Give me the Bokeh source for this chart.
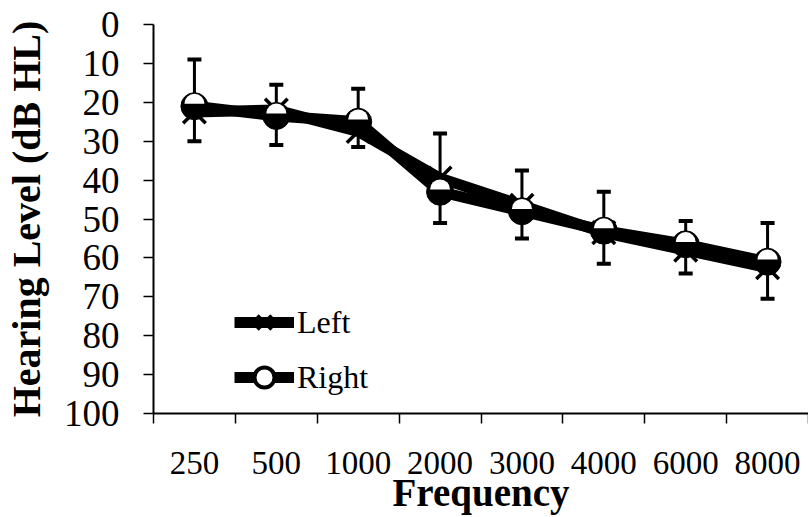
from bokeh.plotting import figure
from bokeh.models import Range1d, FixedTicker, Legend, LegendItem
from bokeh.embed import file_html
from bokeh.resources import INLINE

# ---- data ----
freqs = ["250", "500", "1000", "2000", "3000", "4000", "6000", "8000"]
left_mean = [22.5, 22, 27.5, 39.5, 46.5, 53.5, 58, 62.5]
left_sd = [7.5, 9, 4, 11.5, 8.5, 8, 6, 8]
right_mean = [21, 23.5, 25, 43, 48, 53, 56.5, 61]
right_sd = [12, 8, 8.5, 15, 10.5, 10, 6, 10]
y_ticks = list(range(0, 101, 10))

FONT = "Liberation Serif"

xs = [i + 0.5 for i in range(len(freqs))]
boundaries = list(range(len(freqs) + 1))

p = figure(width=808, height=517, output_backend="svg", toolbar_location=None,
           x_range=Range1d(0, len(freqs)), y_range=Range1d(100, 0),
           min_border_left=152, min_border_right=0, min_border_top=24,
           min_border_bottom=104)
p.outline_line_color = None
p.grid.visible = False
p.background_fill_color = "white"
p.border_fill_color = "white"

# x axis: labels at category centres, ticks at category boundaries
xa = p.xaxis[0]
xa.ticker = FixedTicker(ticks=xs, minor_ticks=boundaries)
xa.major_label_overrides = {x: f for x, f in zip(xs, freqs)}
xa.major_tick_out = 0
xa.major_tick_in = 0
xa.minor_tick_out = 10
xa.minor_tick_in = 0
xa.minor_tick_line_color = "black"
xa.minor_tick_line_width = 1.5
xa.axis_line_width = 2
xa.axis_line_color = "black"
xa.major_label_text_font = FONT
xa.major_label_text_font_size = "33px"
xa.major_label_text_color = "black"
xa.major_label_standoff = 28
xa.axis_label = "Frequency"
xa.axis_label_text_font = FONT
xa.axis_label_text_font_size = "39px"
xa.axis_label_text_font_style = "bold"
xa.axis_label_text_color = "black"
xa.axis_label_standoff = -6

ya = p.yaxis[0]
ya.ticker = FixedTicker(ticks=y_ticks)
ya.major_tick_out = 10
ya.major_tick_in = 0
ya.major_tick_line_width = 1.5
ya.minor_tick_line_color = None
ya.axis_line_width = 2
ya.axis_line_color = "black"
ya.major_label_text_font = FONT
ya.major_label_text_font_size = "37px"
ya.major_label_text_color = "black"
ya.major_label_standoff = 24
ya.axis_label = "Hearing Level (dB HL)"
ya.axis_label_text_font = FONT
ya.axis_label_text_font_size = "40px"
ya.axis_label_text_font_style = "bold"
ya.axis_label_text_color = "black"
ya.axis_label_standoff = 12

# error bars (one-sided)
r_cap = [m - s for m, s in zip(right_mean, right_sd)]
l_cap = [m + s for m, s in zip(left_mean, left_sd)]
p.segment(x0=xs, y0=right_mean, x1=xs, y1=r_cap, line_color="black", line_width=3)
p.scatter(xs, r_cap, marker="dash", size=14, line_color="black", line_width=4)
p.segment(x0=xs, y0=left_mean, x1=xs, y1=l_cap, line_color="black", line_width=3)
p.scatter(xs, l_cap, marker="dash", size=14, line_color="black", line_width=4)

# series
l_line = p.line(xs, left_mean, line_color="black", line_width=11)
l_mark = p.scatter(xs, left_mean, marker="x", size=32, line_color="black", line_width=3.5)
r_line = p.line(xs, right_mean, line_color="black", line_width=11)
r_mark = p.scatter(xs, right_mean, marker="circle", size=27, fill_color="black",
                   line_color="black", line_width=1)
r_hi = p.wedge(xs, [m - 0.6 for m in right_mean], radius=10, radius_units="screen",
               start_angle=0, end_angle=3.14159, fill_color="white", line_color=None)
# marker used for the legend entry only (white centre, black rim)
r_leg = p.scatter(xs, right_mean, marker="circle", size=27, fill_color="white",
                  line_color="black", line_width=4, visible=False)

legend = Legend(items=[LegendItem(label="Left", renderers=[l_line, l_mark]),
                       LegendItem(label="Right", renderers=[r_line, r_leg])],
                location=(81, 11), orientation="vertical")
legend.background_fill_alpha = 0
legend.border_line_color = None
legend.padding = 0
legend.margin = 0
legend.spacing = 5
legend.glyph_width = 60
legend.glyph_height = 50
legend.label_height = 50
legend.label_standoff = 3
legend.label_text_font = FONT
legend.label_text_font_size = "32px"
legend.label_text_color = "black"
p.add_layout(legend, "center")

open("out.html", "w").write(file_html(p, INLINE))
